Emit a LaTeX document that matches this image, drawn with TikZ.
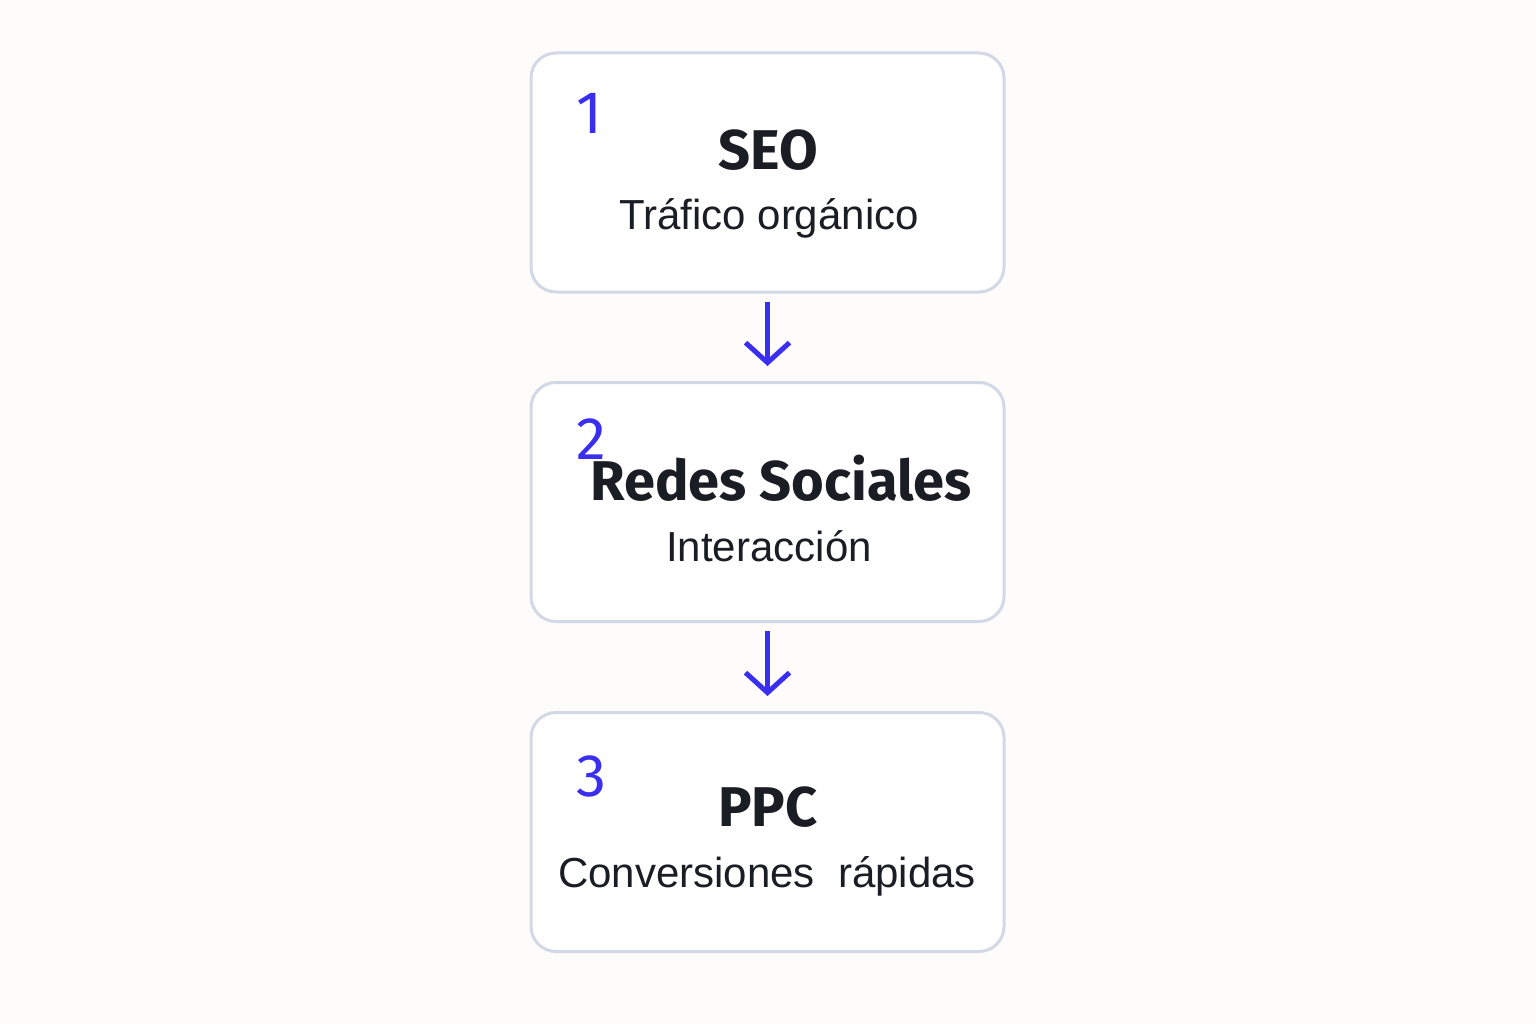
\documentclass[tikz,border=0pt]{standalone}
\usepackage{fontspec}
\setmainfont{Liberation Sans}
\newfontfamily\headfont{Fira Sans}
\usepackage{xcolor}
\usetikzlibrary{arrows.meta, positioning}

\definecolor{bg}{HTML}{FDFCFB}
\definecolor{edge}{HTML}{D3D8E6}
\definecolor{num}{HTML}{3A2EF0}
\definecolor{ink}{HTML}{1A1D24}

\tikzset{
    stage/.style={draw=edge, line width=3pt, rounded corners=25pt, fill=white,
        minimum width=473pt, minimum height=239pt},
    title/.style={anchor=base, inner sep=0pt, font=\headfont\fontsize{56}{56}\selectfont\bfseries, text=ink},
    sub/.style={anchor=base, font=\fontsize{42}{42}\selectfont, text=ink},
    num/.style={anchor=base west, inner sep=0pt, font=\headfont\fontsize{60}{60}\selectfont, text=num},
    flow/.style={draw=num, line width=5pt, -{Straight Barb[length=20pt, width=44pt]},
        shorten <=8pt, shorten >=15pt}
}

\begin{document}
\begin{tikzpicture}[x=1pt, y=-1pt]
                        \fill[bg] (0, 0) rectangle (1536, 1024);
                        \useasboundingbox (0, 0) rectangle (1536, 1024);

                        \node[stage] (seo) at (767.5, 172.5) {};
                        \node[stage] (rs) at (767.5, 502) {};
                        \node[stage] (ppc) at (767.5, 832) {};

                        % box 1
                        \node[num] (n1) at (576, 134) {1};
                        \node[title] (t1) at (768, 170) {SEO};
                        \node[sub] (s1) at (769, 230) {Tráfico orgánico};

                        % box 2
                        \node[num] (n2) at (576, 459) {2};
                        \node[title] (t2) at (781, 500) {Redes Sociales};
                        \node[sub] (s2) at (769, 561) {Interacción};

                        % box 3
                        \node[num] (n3) at (576, 796) {3};
                        \node[title] (t3) at (768, 826) {PPC};
                        \node[sub] (s3) at (767, 887) {Conversiones\ \ rápidas};

                        \draw
                        (seo.south) edge[flow] (rs.north)
                        (rs.south) edge[flow] (ppc.north);
                    \end{tikzpicture}
\end{document}
